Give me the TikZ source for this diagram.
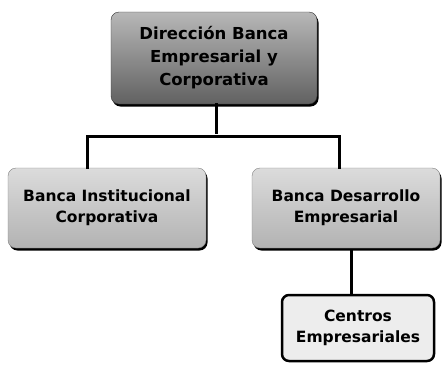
\documentclass[tikz,border=0pt]{standalone}
\usepackage{fontspec}
\setmainfont{DejaVu Sans}
\usepackage{tikz}
\usetikzlibrary{shadows}
\usetikzlibrary{calc}

\begin{document}
\begin{tikzpicture}[x=1pt, y=-1pt]
		\useasboundingbox (0,0) rectangle (446,365);
		
		\begin{scope}[every node/.style={rounded corners = 8pt, align = center, inner sep = 0pt,
			font = \bfseries\fontsize{15.5}{21}\selectfont,
			drop shadow = {shadow xshift = 1.5pt, shadow yshift = -2.5pt, fill = black, opacity = 1}}]
		\node (0) [rectangle, draw = black!80, top color = black!28, bottom color = black!62,
			minimum width = 206pt, minimum height = 92pt,
			font = \bfseries\fontsize{16.5}{23}\selectfont] at (214, 58) {Dirección Banca\\Empresarial y\\Corporativa};
		\node (1) [rectangle, draw = black!50, top color = black!14, bottom color = black!30,
			minimum width = 198pt, minimum height = 80pt] at (107, 208) {Banca Institucional\\Corporativa};
		\node (2) [rectangle, draw = black!50, top color = black!14, bottom color = black!30,
			minimum width = 188pt, minimum height = 80pt] at (346, 208) {Banca Desarrollo\\Empresarial};
		\end{scope}
		
		\begin{scope}[every node/.style={rounded corners = 7pt, align = center, inner sep = 0pt,
			font = \bfseries\fontsize{15.5}{21}\selectfont}]
		\node (3) [rectangle, draw = black, line width = 2.5pt, fill = black!7,
			minimum width = 152pt, minimum height = 66pt] at (358, 328) {Centros\\Empresariales};
		\end{scope}
		
		\coordinate (jl) at (87, 136);
		\coordinate (jr) at (339, 136);
		\coordinate (jc) at (351, 250);
		
		\begin{scope}[line width = 3pt, line cap = rect]
		\draw (0.south -| 216, 0) -- ($(0.south -| 216, 0) + (0, 28)$);
		\draw (jl) -- (jr);
		\draw (jl) -- (jl |- 1.north);
		\draw (jr) -- (jr |- 2.north);
		\draw (jc) -- (jc |- 3.north);
		\end{scope}
		
		\end{tikzpicture}
\end{document}
